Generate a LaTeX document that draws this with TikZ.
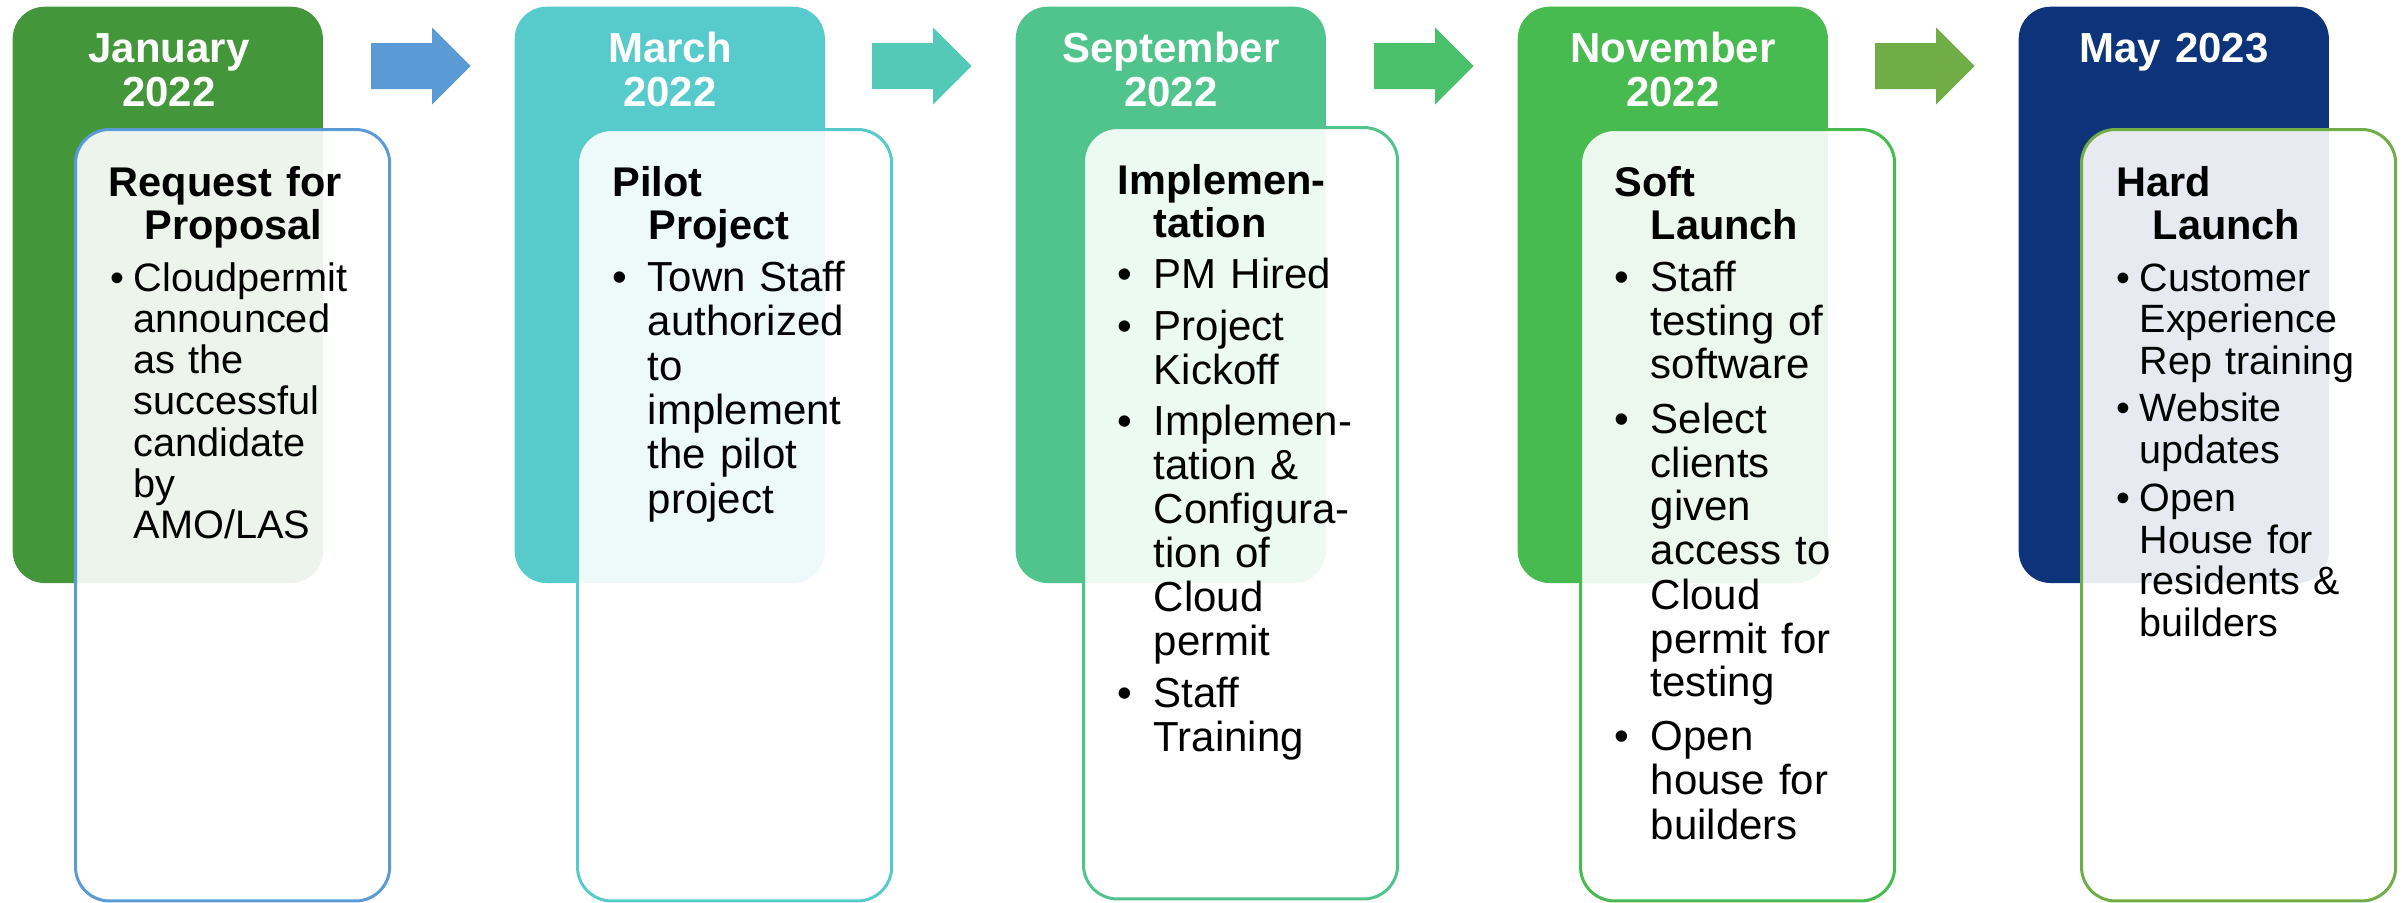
\documentclass[tikz,border=0pt]{standalone}
\usepackage{fontspec}
\setmainfont{Liberation Sans}
\newlength\pxu
\setlength\pxu{0.01cm}
% font size and line spacing given in picture units
\newcommand\pxfont[2]{\fontsize{#1\pxu}{#2\pxu}\selectfont}
% bullet in a hanging box, and the matching indent for continuation lines
\newcommand\bitem[1]{\makebox[#1\pxu][l]{\textbullet}}
\newcommand\bcont[1]{\hspace*{#1\pxu}}
% block arrow pointing right, left end at x = #1
\newcommand\stagearrow[2]{\fill[#2] (#1,43) -- ++(61,0) -- ++(0,-15.7) -- ++(38.5,38.7) -- ++(-38.5,38.5) -- ++(0,-15.5) -- ++(-61,0) -- cycle;}

\definecolor{headA}{HTML}{43963A}
\definecolor{headB}{HTML}{57CBCC}
\definecolor{headC}{HTML}{50C48C}
\definecolor{headD}{HTML}{47BA50}
\definecolor{headE}{HTML}{0D347A}
\definecolor{lineA}{HTML}{5B9BD5}
\definecolor{lineE}{HTML}{70AD47}
\definecolor{arrowB}{HTML}{55C9B7}
\definecolor{arrowC}{HTML}{4BC06A}

\begin{document}
\begin{tikzpicture}[x=0.01cm,y=-0.01cm,
  headbox/.style={anchor=north west, fill=#1, draw=none, rounded corners=0.32cm,
    minimum width=3.10cm, minimum height=5.76cm, inner sep=0},
  cardbox/.style={anchor=north west, draw=#1, line width=0.03cm, fill=white, fill opacity=0.9,
    rounded corners=0.34cm, minimum width=3.14cm, minimum height=7.71cm, inner sep=0},
  headtext/.style={anchor=base, text=white, text width=3.0cm, align=center, inner sep=0,
    font=\bfseries\pxfont{42}{44.5}},
  titletext/.style={anchor=base west, text=black, text width=3.0cm, align=left, inner sep=0,
    font=\bfseries\pxfont{41.5}{43}},
  listtext/.style={anchor=base west, text=black, text width=3.0cm, align=left, inner sep=0}
]
\useasboundingbox (0,0) rectangle (2402,903);

% timeline arrows
\stagearrow{371}{lineA}
\stagearrow{872}{arrowB}
\stagearrow{1374}{arrowC}
\stagearrow{1875}{lineE}

% date headers
\node[headbox=headA] (h1) at (12,6) {};
\node[headbox=headB] (h2) at (514,6) {};
\node[headbox=headC] (h3) at (1015,6) {};
\node[headbox=headD] (h4) at (1517,6) {};
\node[headbox=headE] (h5) at (2018,6) {};

\node[headtext] (h1t) at (169,62) {January\\2022};
\node[headtext] (h2t) at (670,62) {March\\2022};
\node[headtext] (h3t) at (1171,62) {September\\2022};
\node[headtext] (h4t) at (1673,62) {November\\2022};
\node[headtext] (h5t) at (2174,62) {May 2023};

% stage cards
\node[cardbox=lineA] (b1) at (74,128) {};
\node[cardbox=headB] (b2) at (576,128) {};
\node[cardbox=headC] (b3) at (1082,126) {};
\node[cardbox=headD] (b4) at (1579,128) {};
\node[cardbox=lineE] (b5) at (2080,128) {};

% card titles
\node[titletext] (t1) at (108,196.5) {Request for\\\bcont{36}Proposal};
\node[titletext] (t2) at (612,196.5) {Pilot\\\bcont{36}Project};
\node[titletext] (t3) at (1117,194) {Implemen-\\\bcont{36}tation};
\node[titletext] (t4) at (1614,196.5) {Soft\\\bcont{36}Launch};
\node[titletext] (t5) at (2116,196.5) {Hard\\\bcont{36}Launch};

% card bullet lists
\node[listtext, font=\pxfont{39.7}{41.3}] (l1) at (110,291) {%
  \bitem{23}Cloudpermit\\\bcont{23}announced\\\bcont{23}as the\\\bcont{23}successful\\%
  \bcont{23}candidate\\\bcont{23}by\\\bcont{23}AMO/LAS};
\node[listtext, font=\pxfont{42}{44.5}] (l2) at (612,291) {%
  \bitem{35}Town Staff\\\bcont{35}authorized\\\bcont{35}to\\\bcont{35}implement\\%
  \bcont{35}the pilot\\\bcont{35}project};
\node[listtext, font=\pxfont{42}{44}] (l3) at (1117,288) {%
  \bitem{36}PM Hired\\[8\pxu]%
  \bitem{36}Project\\\bcont{36}Kickoff\\[7\pxu]%
  \bitem{36}Implemen-\\\bcont{36}tation \&\\\bcont{36}Configura-\\\bcont{36}tion of\\%
  \bcont{36}Cloud\\\bcont{36}permit\\[8\pxu]%
  \bitem{36}Staff\\\bcont{36}Training};
\node[listtext, font=\pxfont{42}{44}] (l4) at (1614,291) {%
  \bitem{36}Staff\\\bcont{36}testing of\\\bcont{36}software\\[10\pxu]%
  \bitem{36}Select\\\bcont{36}clients\\\bcont{36}given\\\bcont{36}access to\\%
  \bcont{36}Cloud\\\bcont{36}permit for\\\bcont{36}testing\\[10\pxu]%
  \bitem{36}Open\\\bcont{36}house for\\\bcont{36}builders};
\node[listtext, font=\pxfont{39.5}{41.5}] (l5) at (2116,291) {%
  \bitem{23}Customer\\\bcont{23}Experience\\\bcont{23}Rep training\\[6.5\pxu]%
  \bitem{23}Website\\\bcont{23}updates\\[6.5\pxu]%
  \bitem{23}Open\\\bcont{23}House for\\\bcont{23}residents \&\\\bcont{23}builders};
\end{tikzpicture}
\end{document}
